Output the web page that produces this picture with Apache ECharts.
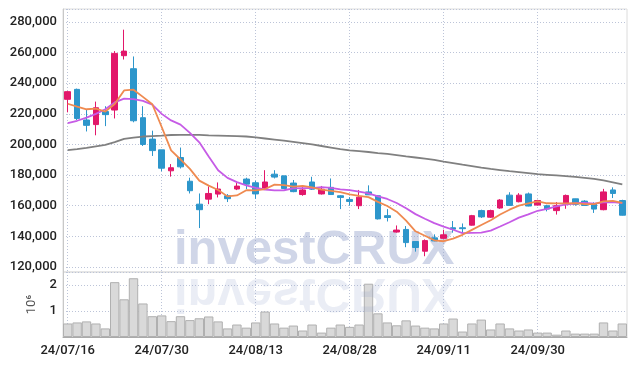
<!DOCTYPE html>
<html><head><meta charset="utf-8">
<script src="https://cdn.jsdelivr.net/npm/echarts@6/dist/echarts.min.js"></script>
<style>html,body{margin:0;padding:0;background:#fff}#c{width:637px;height:366px}</style>
</head><body><div id="c"></div>
<script>
const dates = ['24/07/16','24/07/17','24/07/18','24/07/19','24/07/22','24/07/23','24/07/24','24/07/25','24/07/26','24/07/29',
'24/07/30','24/07/31','24/08/01','24/08/02','24/08/05','24/08/06','24/08/07','24/08/08','24/08/09','24/08/12',
'24/08/13','24/08/14','24/08/16','24/08/19','24/08/20','24/08/21','24/08/22','24/08/23','24/08/26','24/08/27',
'24/08/28','24/08/29','24/08/30','24/09/02','24/09/03','24/09/04','24/09/05','24/09/06','24/09/09','24/09/10',
'24/09/11','24/09/12','24/09/13','24/09/19','24/09/20','24/09/23','24/09/24','24/09/25','24/09/26','24/09/27',
'24/09/30','24/10/02','24/10/04','24/10/07','24/10/08','24/10/10','24/10/11','24/10/14','24/10/15','24/10/16'];
const opens = [229500,236000,216000,213000,221500,222500,258000,249500,217500,203500,
196500,182800,191500,176000,161000,164300,167600,166500,170900,177400,
175000,171600,180600,179500,174800,167300,175500,167700,172000,166500,
164100,160000,169000,166500,153500,142800,144500,136600,130300,139000,
138700,145600,145600,147300,156800,152500,158500,166900,162600,167700,
160400,160000,156800,161100,164500,163000,161300,157400,170300,163400];
const closes = [234500,217000,212500,224000,219500,259500,261000,215500,200000,196000,
184500,184800,185400,169800,157400,168000,170900,164600,172800,174100,
167700,175500,178700,171200,169200,170300,170800,170800,167300,165400,
162800,165600,167100,151400,152300,144100,135900,132700,137200,137000,
141000,144700,145000,153500,152700,156800,163700,160200,166900,159800,
163400,157800,160000,166700,160900,160200,157800,169000,168000,153800];
const lows = [221000,216000,208500,206000,212000,217000,255500,214500,199000,192500,
182500,179000,184300,168000,145400,161000,165400,162400,170200,170900,
164500,171000,177800,171000,168800,166500,170300,167300,167000,157800,
160000,157800,167000,151000,149700,142400,132900,130000,127000,136800,
138000,142400,142000,147000,152000,152000,158000,160000,162200,159600,
160300,156300,154200,158000,160000,160000,155300,157000,165000,153600];
const highs = [235000,236500,223000,228000,225000,261000,275000,257500,225000,209000,
196500,187200,198000,178300,168000,172600,175200,167600,174800,178300,
176300,183200,183200,179600,176800,173300,178900,172900,177800,166900,
165600,170300,173300,167000,157800,147100,146700,136600,138000,141300,
144300,150000,148400,154000,157400,157400,164300,168800,168200,168600,
163900,160600,162400,167300,164600,163600,162200,171000,172000,163900];
const ma5 = [226600,224700,223000,223400,221500,226400,235300,235800,231100,226300,
211400,196100,190200,184100,176400,173100,170300,166100,166700,170100,
170000,170900,173800,173400,172500,173000,172000,170500,169700,168900,
167400,166400,165600,162500,159800,156100,150200,143300,140400,137400,
136800,138500,141000,144200,147400,150500,154300,157400,160100,161500,
162800,161600,161500,161500,161700,161100,161100,162900,163200,161800];
const ma10 = [214000,215500,217600,220000,223000,227500,230000,229600,228500,226000,
220000,215700,213000,207600,201400,192200,183200,178200,175400,173300,
171600,170600,170000,170100,171300,171500,171500,172100,171600,170700,
170200,169200,168100,166100,164400,161800,158300,154500,151500,148600,
146400,144300,142100,142300,142400,143700,146400,149200,152200,154400,
156700,158000,159500,160800,161600,161900,161400,162200,162300,161700];
const maLong = [196300,197000,197800,198800,199800,201500,203700,204500,205200,205500,
205800,206200,206300,206300,206300,206000,205800,205600,205400,205200,
204600,203900,203200,202500,201700,200900,200000,199000,198000,197000,
196200,195700,195100,194400,193800,193000,192200,191500,190700,189900,
188800,187800,186800,185900,184900,184000,183300,182600,182000,181300,
180600,180200,179800,179300,178800,178200,177500,176500,175300,173900];
const volumes = [520000,560000,600000,520000,330000,2110000,1450000,2260000,1290000,800000,
830000,610000,800000,650000,720000,790000,600000,330000,480000,360000,
560000,980000,520000,360000,440000,250000,480000,170000,360000,480000,
390000,480000,2050000,910000,560000,450000,640000,440000,360000,330000,
520000,710000,210000,520000,670000,290000,520000,330000,250000,290000,
170000,170000,90000,250000,130000,130000,130000,560000,250000,520000];

const candles = opens.map((o, i) => [o, closes[i], lows[i], highs[i]]);
const FONT = 'Roboto, "Liberation Sans", sans-serif';
const gridLineStyle = {color: '#bcc4d8', type: [1, 2], width: 1};
const chart = echarts.init(document.getElementById('c'), null, {renderer: 'canvas'});
chart.setOption({
  animation: false,
  backgroundColor: '#fff',
  grid: [
    {left: 63, right: 10, top: 9, height: 263, show: true, borderColor: '#dcdcdc', borderWidth: 1},
    {left: 63, right: 10, top: 272, height: 65, show: true, borderColor: '#dcdcdc', borderWidth: 1}
  ],
  xAxis: [
    {type: 'category', data: dates, gridIndex: 0, boundaryGap: true,
     axisLine: {show: false}, axisTick: {show: false}, axisLabel: {show: false},
     splitLine: {show: true, interval: 9, alignWithLabel: true, lineStyle: gridLineStyle}},
    {type: 'category', data: dates, gridIndex: 1, boundaryGap: true,
     axisLine: {show: true, lineStyle: {color: '#aaaaaa'}}, axisTick: {show: false},
     axisLabel: {interval: 9, color: '#222', fontFamily: FONT, fontWeight: 500, fontSize: 13, margin: 7},
     splitLine: {show: true, interval: 9, alignWithLabel: true, lineStyle: gridLineStyle}}
  ],
  yAxis: [
    {type: 'value', gridIndex: 0, min: 116700, max: 288500, splitNumber: 8, scale: true,
     axisLine: {show: true, lineStyle: {color: '#c8c8c8'}}, axisTick: {show: false},
     axisLabel: {showMinLabel: false, showMaxLabel: false, color: '#222', fontFamily: FONT, fontWeight: 500, fontSize: 13, margin: 6,
       formatter: v => v.toLocaleString('en-US')},
     splitLine: {show: true, lineStyle: gridLineStyle}},
    {type: 'value', gridIndex: 1, min: 0, max: 2500000, interval: 1000000,
     name: '10⁶', nameLocation: 'middle', nameRotate: 90, nameGap: 22,
     nameTextStyle: {color: '#555', fontFamily: FONT, fontSize: 13},
     axisLine: {show: true, lineStyle: {color: '#c8c8c8'}}, axisTick: {show: false},
     axisLabel: {showMinLabel: false, showMaxLabel: false, color: '#222', fontFamily: FONT, fontWeight: 500, fontSize: 13, margin: 6,
       formatter: v => String(v / 1000000)},
     splitLine: {show: true, lineStyle: gridLineStyle}}
  ],
  series: [
    {type: 'candlestick', xAxisIndex: 0, yAxisIndex: 0, data: candles, barWidth: 6, z: 3,
     itemStyle: {color: '#e2176a', color0: '#2d96cb', borderColor: '#e2176a', borderColor0: '#2d96cb', borderWidth: 1}},
    {type: 'line', xAxisIndex: 0, yAxisIndex: 0, data: maLong, showSymbol: false, z: 4,
     lineStyle: {color: '#808080', width: 1.8}},
    {type: 'line', xAxisIndex: 0, yAxisIndex: 0, data: ma10, showSymbol: false, z: 5,
     lineStyle: {color: '#c65be6', width: 1.8}},
    {type: 'line', xAxisIndex: 0, yAxisIndex: 0, data: ma5, showSymbol: false, z: 6,
     lineStyle: {color: '#ef8a50', width: 1.8}},
    {type: 'bar', xAxisIndex: 1, yAxisIndex: 1, data: volumes, barCategoryGap: '0%', z: 3,
     itemStyle: {color: '#d9d9d9', borderColor: '#b0b0b0', borderWidth: 1}}
  ],
  graphic: [
    {type: 'text', x: 174, y: 250, z: 1, silent: true,
     style: {text: 'investCRUX', font: 'bold 49px "Liberation Sans", sans-serif', fill: 'rgba(150,165,205,0.45)', verticalAlign: 'middle'}},
    {type: 'text', x: 174, y: 293, scaleY: -1, z: 10, silent: true,
     style: {text: 'investCRUX', font: 'bold 49px "Liberation Sans", sans-serif', fill: 'rgba(150,165,205,0.2)', verticalAlign: 'middle'}}
  ]
});
</script></body></html>
